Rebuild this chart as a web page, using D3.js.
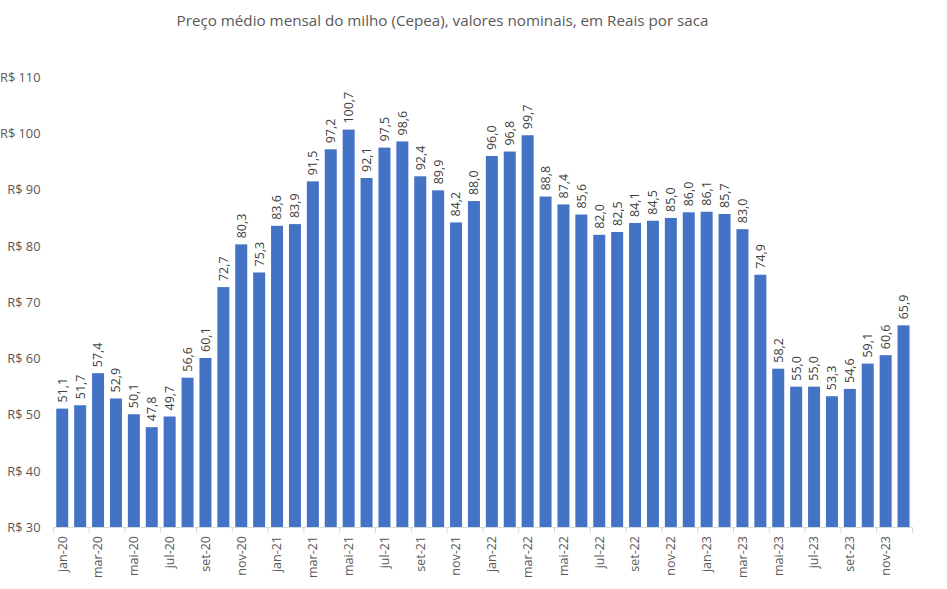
<!DOCTYPE html>
<html><head><meta charset="utf-8">
<script src="https://cdn.jsdelivr.net/npm/d3@7"></script>
<style>body{margin:0;background:#fff}svg{display:block}</style>
</head><body><svg id="c" width="947" height="589"></svg>
<script>
const title = "Preço médio mensal do milho (Cepea), valores nominais, em Reais por saca";
const months = ["jan","fev","mar","abr","mai","jun","jul","ago","set","out","nov","dez"];
const years = ["20","21","22","23"];
const categories = years.flatMap(y => months.map(m => m + "-" + y));
const values = [51.1,51.7,57.4,52.9,50.1,47.8,49.7,56.6,60.1,72.7,80.3,75.3,
  83.6,83.9,91.5,97.2,100.7,92.1,97.5,98.6,92.4,89.9,84.2,88.0,
  96.0,96.8,99.7,88.8,87.4,85.6,82.0,82.5,84.1,84.5,85.0,86.0,
  86.1,85.7,83.0,74.9,58.2,55.0,55.0,53.3,54.6,59.1,60.6,65.9];
const yTicks = [30,40,50,60,70,80,90,100,110];

const svg = d3.select("#c");
const font = "'Open Sans', 'Noto Sans', sans-serif";
const x = d3.scaleBand().domain(categories).range([53.3, 912.5]).paddingInner(0.33).paddingOuter(0.165);
const y = d3.scaleLinear().domain([30,110]).range([527.3, 77.3]);

svg.append("text").attr("x", 442.5).attr("y", 26).attr("text-anchor","middle")
  .attr("font-family", font).attr("font-size", 15.2).attr("fill","#595959").text(title);

// y labels
svg.append("g").selectAll("text").data(yTicks).join("text")
  .attr("x", 40.5).attr("y", d => y(d)).attr("dy","0.35em").attr("text-anchor","end")
  .attr("font-family", font).attr("font-size", 12.8).attr("fill","#595959")
  .text(d => "R$ " + d);

// bars
svg.append("g").selectAll("rect").data(values).join("rect")
  .attr("x", (d,i) => x(categories[i])).attr("width", x.bandwidth())
  .attr("y", d => y(d)).attr("height", d => y(30) - y(d)).attr("fill","#4472C4");

// x axis line
const step = x.step();
const x0 = 53.3;
svg.append("line").attr("x1", x0).attr("x2", x0 + step*48).attr("y1", 527.5).attr("y2", 527.5)
  .attr("stroke","#d9d9d9").attr("stroke-width",1);
const tickIdx = d3.range(0, 49, 2);
svg.append("g").selectAll("line").data(tickIdx).join("line")
  .attr("x1", i => x0 + i*step).attr("x2", i => x0 + i*step)
  .attr("y1", 527.5).attr("y2", 533).attr("stroke","#d9d9d9");

// x labels
svg.append("g").selectAll("text").data(categories.filter((c,i)=> i%2===0)).join("text")
  .attr("transform", d => `translate(${x(d)+x.bandwidth()/2},536) rotate(-90)`)
  .attr("dy","0.35em").attr("text-anchor","end")
  .attr("font-family", font).attr("font-size", 12.5).attr("fill","#595959").text(d => d);

// value labels
svg.append("g").selectAll("text").data(values).join("text")
  .attr("transform", (d,i) => `translate(${x(categories[i])+x.bandwidth()/2},${y(d)-6}) rotate(-90)`)
  .attr("dy","0.35em").attr("text-anchor","start")
  .attr("font-family", font).attr("font-size", 12.5).attr("fill","#404040")
  .text(d => d.toFixed(1).replace(".", ","));
</script></body></html>
